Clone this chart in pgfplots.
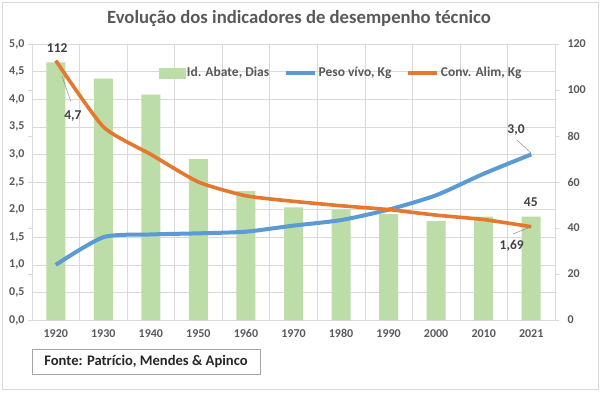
\documentclass[border=0pt]{standalone}
\usepackage{pgfplots}
\pgfplotsset{compat=1.18}
\usepackage{fontspec}
\setmainfont{Carlito}
\definecolor{barg}{HTML}{BCDCA8}
\definecolor{blu}{HTML}{5B9BD5}
\definecolor{org}{HTML}{E5782E}
\definecolor{gridc}{HTML}{D9D9D9}
\definecolor{txt}{HTML}{595959}
\definecolor{lab}{HTML}{404040}
\begin{document}
\begin{tikzpicture}
\path[use as bounding box] (0pt,0pt) rectangle (600pt,392pt);
\draw[gridc, line width=0.8pt] (2.5pt,3pt) rectangle (598pt,390pt);
\node[font=\fontsize{18.7}{22}\selectfont\bfseries, text=txt] at (299pt,373pt) {Evolução dos indicadores de desempenho técnico};
% bars axis (right scale)
\begin{axis}[at={(32pt,72pt)}, anchor=south west, scale only axis,
  width=523pt, height=276pt,
  xmin=-0.5, xmax=10.5, ymin=0, ymax=120,
  axis line style={gridc}, 
  ytick={0,20,...,120}, yticklabel pos=right,
  y tick style={gridc, line width=0.6pt}, tick align=outside, major tick length=4pt,
  xtick={0,...,10},
  xticklabels={1920,1930,1940,1950,1960,1970,1980,1990,2000,2010,2021},
  x tick style={draw=none},
  extra y ticks={0,12,...,120}, extra y tick labels={},
  extra y tick style={grid=major, major tick length=0pt, tick style={draw=none}},
  extra x ticks={-0.5,0.5,...,10.5}, extra x tick labels={},
  extra x tick style={grid=major, major tick length=0pt, tick style={draw=none}},
  grid style={gridc, line width=0.6pt},
  ticklabel style={font=\fontsize{12}{14}\selectfont\bfseries, text=txt},
  /pgf/number format/assume math mode=true,
  yticklabel style={xshift=5pt},
  xticklabel style={yshift=-2pt},
  clip=false,
]
\addplot[ybar, bar width=19pt, fill=barg, draw=none] coordinates {
(0,112) (1,105) (2,98) (3,70) (4,56) (5,49) (6,48) (7,46) (8,43) (9,45) (10,45)};
\end{axis}
% lines axis (left scale)
\begin{axis}[at={(32pt,72pt)}, anchor=south west, scale only axis,
  width=523pt, height=276pt,
  xmin=-0.5, xmax=10.5, ymin=0, ymax=5,
  hide x axis, axis y line*=left, axis line style={gridc},
  ytick={0,0.5,...,5}, major tick length=0pt,
  yticklabel={\pgfmathprintnumber[fixed, fixed zerofill, precision=1, use comma]{\tick}},
  ticklabel style={font=\fontsize{12}{14}\selectfont\bfseries, text=txt},
  /pgf/number format/assume math mode=true,
  yticklabel style={xshift=-4pt},
  clip=false,
  legend style={at={(0.591,0.895)}, anchor=center, draw=none, fill=none,
    font=\fontsize{13.5}{16}\selectfont\bfseries, text=txt,
    legend columns=3, /tikz/every even column/.append style={column sep=13pt}},
  legend cell align=left,
]
\addlegendimage{legend image code/.code={\fill[barg] (0pt,-5pt) rectangle (26pt,5pt);}}
\addlegendentry{Id. Abate, Dias}
\addplot[blu, line width=4pt, smooth, tension=0.4,
  legend image code/.code={\draw[blu, line width=3.5pt] (0pt,0pt) -- (29pt,0pt);}] coordinates {
(0,1.0) (1,1.5) (2,1.55) (3,1.57) (4,1.6) (5,1.71) (6,1.81) (7,2.0) (8,2.26) (9,2.65) (10,3.0)};
\addlegendentry{Peso vívo, Kg}
\addplot[org, line width=3.6pt, smooth, tension=0.35,
  legend image code/.code={\draw[org, line width=3.5pt] (0pt,0pt) -- (29pt,0pt);}] coordinates {
(0,4.7) (1,3.5) (2,3.0) (3,2.5) (4,2.25) (5,2.15) (6,2.07) (7,2.0) (8,1.9) (9,1.82) (10,1.69)};
\addlegendentry{Conv. Alim, Kg}
\node[font=\fontsize{13.5}{16}\selectfont\bfseries, text=lab] at (axis cs:0.03,4.93) {112};
\node[font=\fontsize{13.5}{16}\selectfont\bfseries, text=lab] at (axis cs:0.36,3.70) {4,7};
\draw[gray, line width=0.4pt] (axis cs:0.13,4.42) -- (axis cs:0.32,3.95);
\node[font=\fontsize{13.5}{16}\selectfont\bfseries, text=lab] at (axis cs:9.68,3.44) {3,0};
\draw[gray, line width=0.4pt] (axis cs:9.70,3.26) -- (axis cs:9.99,3.03);
\node[font=\fontsize{13.5}{16}\selectfont\bfseries, text=lab] at (axis cs:9.99,2.14) {45};
\node[font=\fontsize{13.5}{16}\selectfont\bfseries, text=lab] at (axis cs:9.59,1.34) {1,69};
\draw[gray, line width=0.4pt] (axis cs:9.62,1.56) -- (axis cs:9.97,1.68);
\end{axis}
\node[draw=gray!70, line width=0.6pt, minimum width=228pt, minimum height=25pt, inner sep=0pt,
  font=\fontsize{14.6}{17}\selectfont\bfseries, text=black!85] at (146pt,30.5pt) {Fonte: Patrício, Mendes \& Apinco};
\end{tikzpicture}
\end{document}
